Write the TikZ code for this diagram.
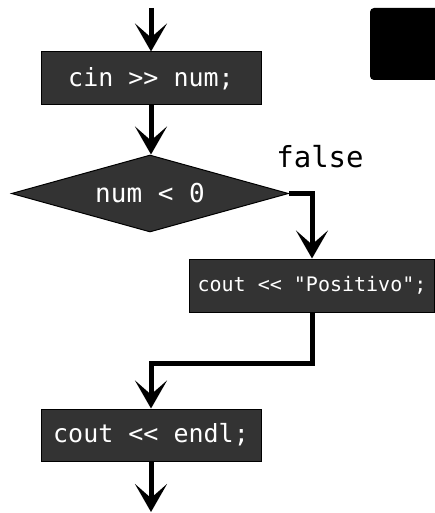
\documentclass[tikz,border=0pt]{standalone}
\usepackage{fontspec}
\setmonofont{DejaVu Sans Mono}
\usepackage{xcolor}
\usetikzlibrary{positioning,arrows.meta,shapes.geometric}
\definecolor{boxgray}{HTML}{333333}

\begin{document}
\begin{tikzpicture}[x=1pt,y=-1pt,
  stepbox/.style={draw=black,line width=1pt,fill=boxgray,text=white,inner sep=0pt,
    minimum height=53pt,font=\ttfamily\fontsize{25}{25}\selectfont},
  testbox/.style={diamond,aspect=3.6,draw=black,line width=1pt,fill=boxgray,text=white,inner sep=0pt,
    minimum width=277pt,minimum height=77pt,font=\ttfamily\fontsize{26}{26}\selectfont},
  flow/.style={line width=5pt,-{Stealth[length=28pt,width=32pt,inset=14pt]}}]
  \useasboundingbox (0,0) rectangle (434,513);
  % corner block, cut by the page
  \fill[black,rounded corners=4pt] (370,8) rectangle (445,80);
  \node[stepbox,minimum width=220pt] (read) at (151,78.5) {cin >> num;};
  \node[testbox] (cond) at (150,193.5) {num < 0};
  \node[stepbox,minimum width=245pt,font=\ttfamily\fontsize{20}{20}\selectfont] (pos) at (312,285.5) {cout << "Positivo";};
  \node[stepbox,minimum width=220pt,minimum height=52pt] (endl) at (151,435) {cout << endl;};
  \node[font=\ttfamily\fontsize{29}{29}\selectfont] (no) at (320,157) {false};
  \coordinate (start) at (151,8);
  \coordinate (stop) at (151,512);
  \draw[flow] (start) -- (read.north);
  \draw[flow] (read.south) -- (read.south |- cond.north);
  \draw[flow] (cond.east) -| (pos.north);
  \draw[flow] (pos.south) -- ++(0,51) -| (endl.north);
  \draw[flow] (endl.south) -- (stop);
\end{tikzpicture}
\end{document}
